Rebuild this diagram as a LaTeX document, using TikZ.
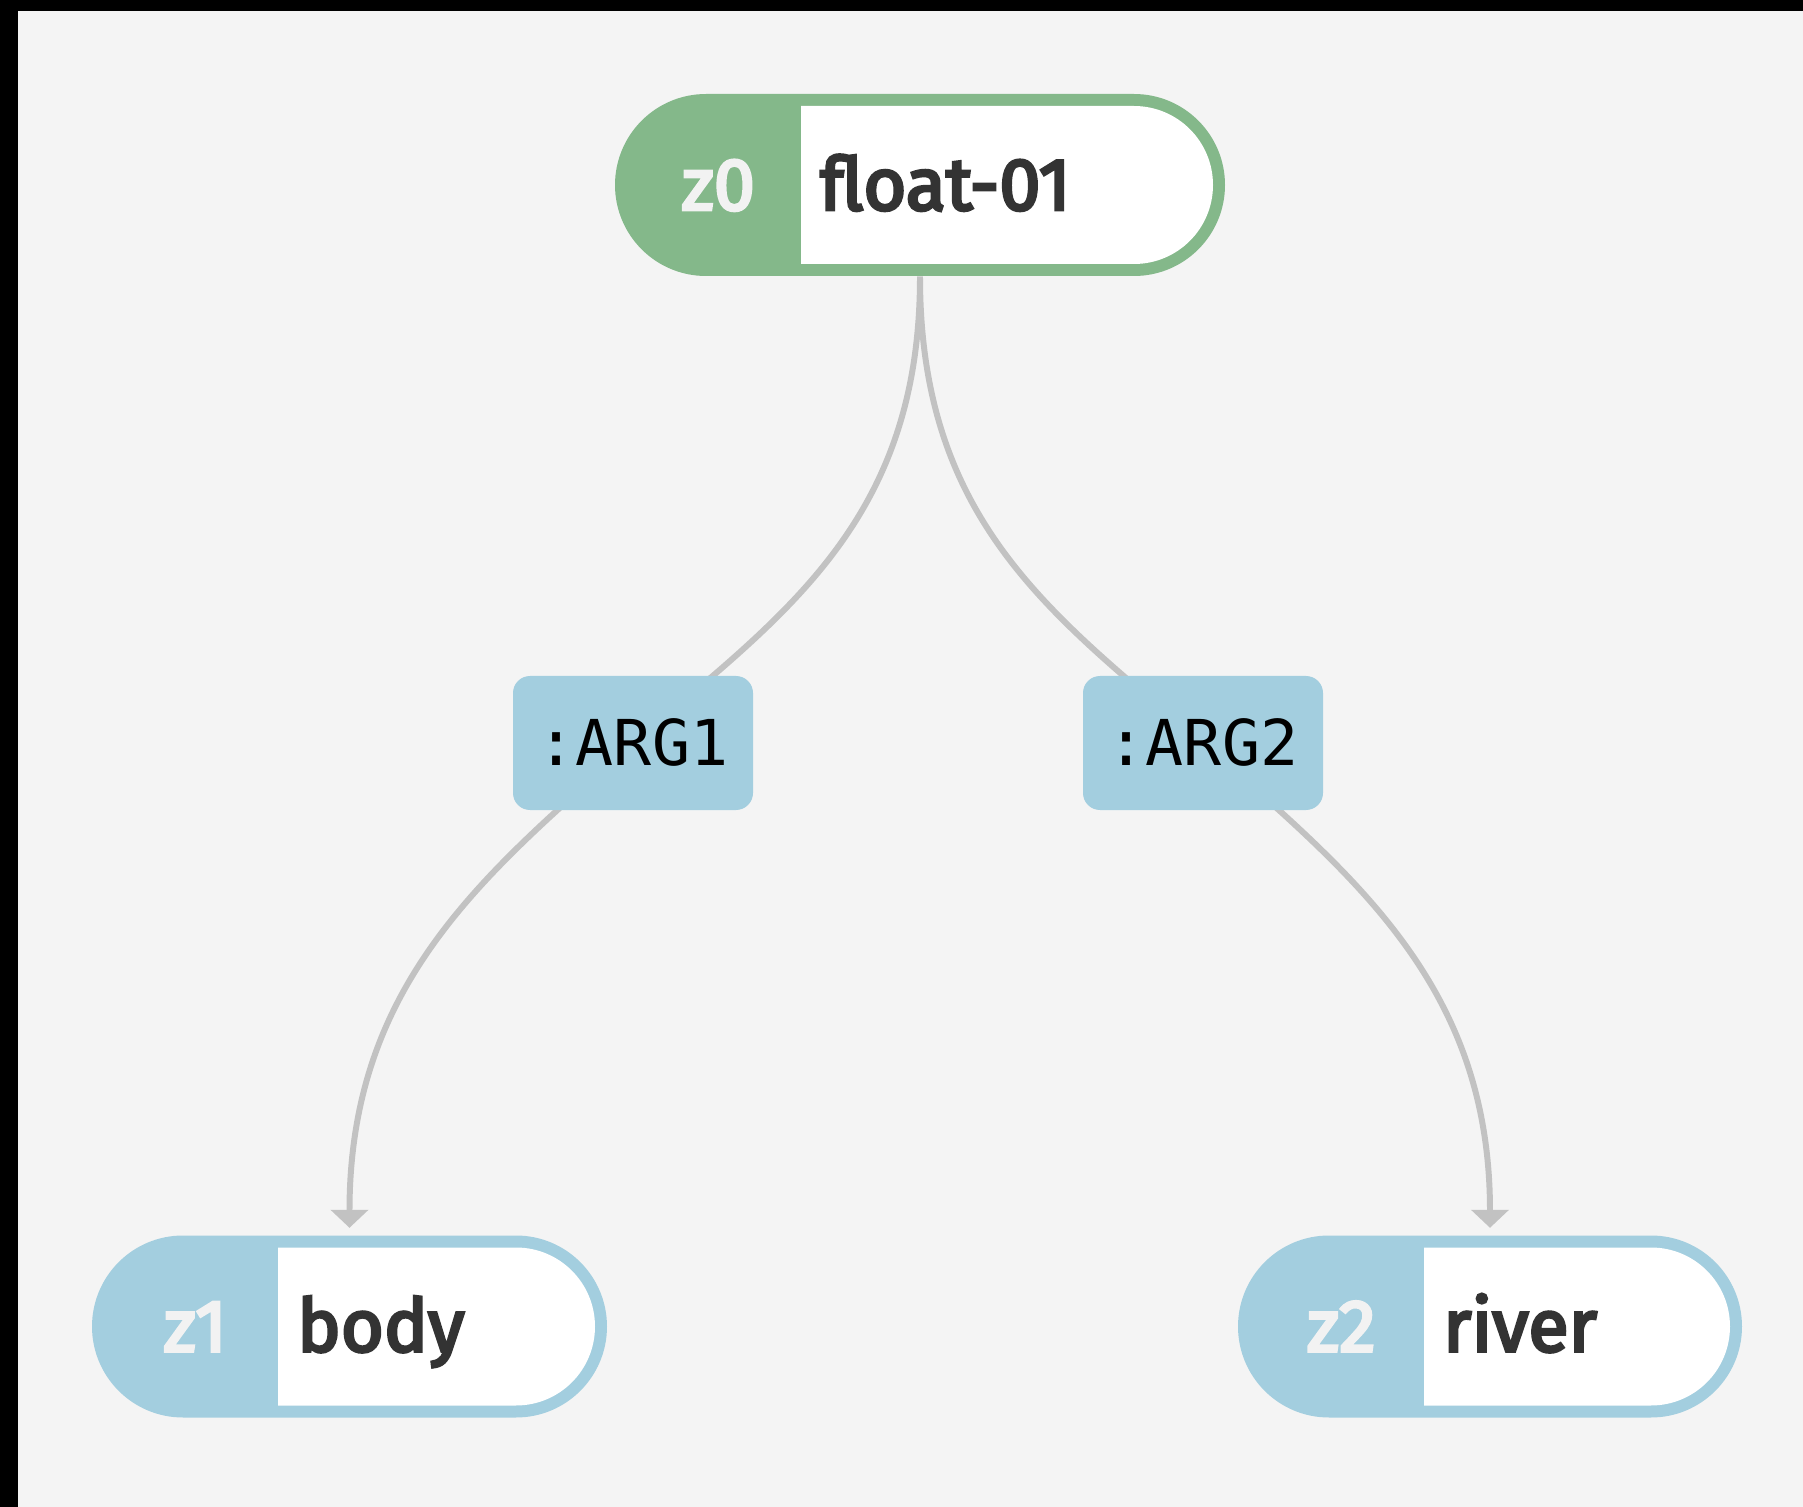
\documentclass[tikz,border=0pt]{standalone}
\usepackage{fontspec}
\setmainfont{Fira Sans}
\newfontfamily\conceptfont{Fira Sans}[FakeBold=4]
\newfontfamily\rolefont{DejaVu Sans Mono}
\usetikzlibrary{positioning,shapes.misc,arrows.meta}

\definecolor{amrgreen}{HTML}{84B88A}
\definecolor{amrblue}{HTML}{A3CEDF}
\definecolor{paper}{HTML}{F4F4F4}
\definecolor{ink}{HTML}{333333}
\definecolor{varwhite}{HTML}{F2F2F2}
\definecolor{linkgray}{HTML}{C2C2C2}

\pgfdeclarelayer{background}
\pgfsetlayers{background,main}

\tikzset{
    pill/.style={rounded rectangle, inner sep=0pt, minimum height=1.82cm},
    pillbody/.style={rounded rectangle, rounded rectangle left arc=none, fill=white, inner sep=0pt, minimum height=1.58cm},
    varname/.style={text=varwhite, font=\conceptfont\fontsize{21}{24}\selectfont, inner sep=0pt, text height=0.5cm, text depth=0pt},
    concept/.style={text=ink, font=\conceptfont\fontsize{21}{24}\selectfont, inner sep=0pt, text height=0.5cm, text depth=0pt},
    role/.style={fill=amrblue, rounded corners=0.17cm, minimum width=2.40cm, minimum height=1.34cm, inner sep=0pt, text height=0.46cm, text depth=0pt, font=\rolefont\fontsize{18}{22}\selectfont},
    link/.style={draw=linkgray, line width=1.7pt},
    linkhead/.style={-{Triangle[width=0.37cm,length=0.18cm]}, shorten >=0.07cm}
}

\begin{document}
\begin{tikzpicture}
    \useasboundingbox (0,0) rectangle (18.03,-15.07);

    % concepts
    \node[pill, fill=amrgreen, minimum width=6.10cm] (z0) at (9.20,-1.85) {};
    \node[pillbody, minimum width=4.12cm, left=0.12cm of z0.east] (z0body) {};
    \node[varname] at ([xshift=-0.82cm]z0body.west) {z0};
    \node[concept, right=0.19cm of z0body.west] {float-01};

    \node[pill, fill=amrblue, minimum width=5.15cm] (z1) at (3.495,-13.265) {};
    \node[pillbody, minimum width=3.17cm, left=0.12cm of z1.east] (z1body) {};
    \node[varname] at ([xshift=-0.82cm]z1body.west) {z1};
    \node[concept, right=0.19cm of z1body.west] {body};

    \node[pill, fill=amrblue, minimum width=5.04cm] (z2) at (14.90,-13.265) {};
    \node[pillbody, minimum width=3.06cm, left=0.12cm of z2.east] (z2body) {};
    \node[varname] at ([xshift=-0.82cm]z2body.west) {z2};
    \node[concept, right=0.19cm of z2body.west] {river};

    % roles
    \node[role] (arg1) at (6.33,-7.43) {:ARG1};
    \node[role] (arg2) at (12.03,-7.43) {:ARG2};

    \begin{pgfonlayer}{background}
        \fill[black] (0,0) rectangle (18.03,-15.07);
        \fill[paper] (0.18,-0.11) rectangle (18.03,-15.07);
        \draw[link] (z0.south) .. controls +(0,-2.43) and +(1.53,1.29) .. (arg1.center);
        \draw[link, linkhead] (arg1.center) .. controls +(-1.50,-1.32) and +(0,2.50) .. (z1.north);
        \draw[link] (z0.south) .. controls +(0,-2.43) and +(-1.53,1.29) .. (arg2.center);
        \draw[link, linkhead] (arg2.center) .. controls +(1.50,-1.32) and +(0,2.50) .. (z2.north);
    \end{pgfonlayer}
\end{tikzpicture}
\end{document}
